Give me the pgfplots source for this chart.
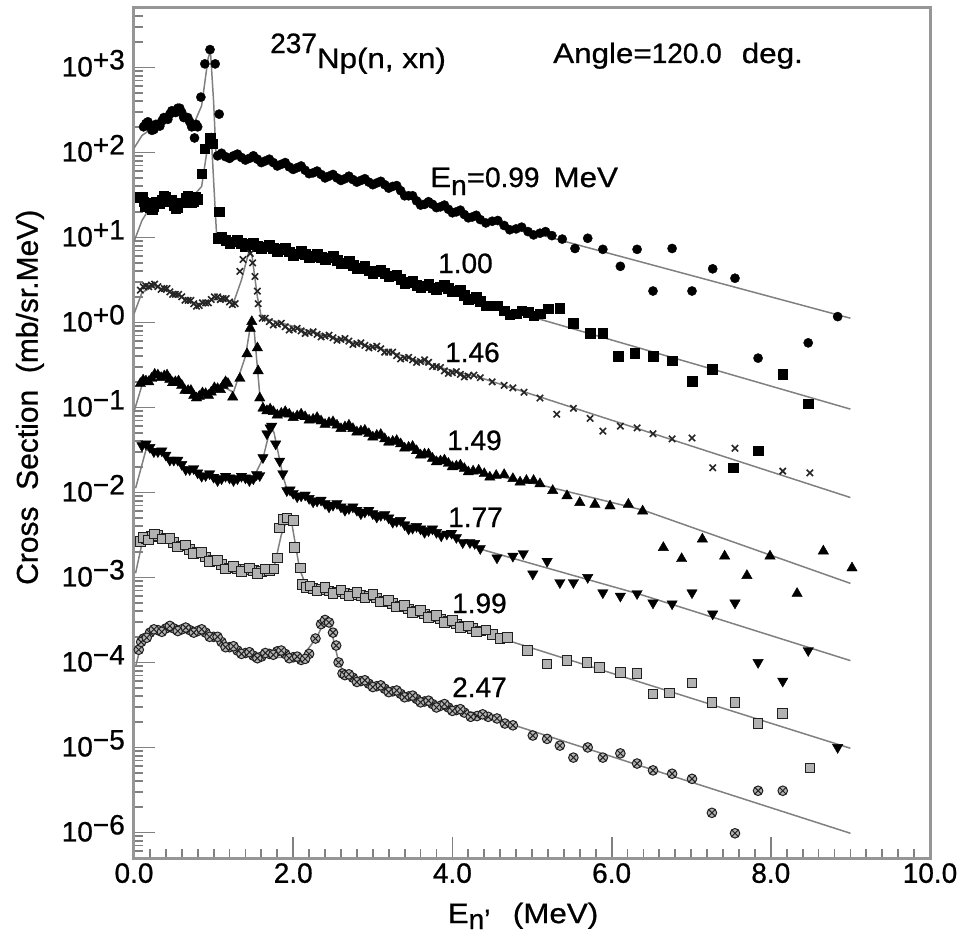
\documentclass[border=0pt]{standalone}
\usepackage{fontspec}
\setmainfont{Liberation Sans}[FakeBold=0.8]
\newfontfamily\widefont{Liberation Sans}[FakeStretch=1.12,FakeBold=0.8]
\usepackage{pgfplots}
\pgfplotsset{compat=1.18}
\newcommand{\tl}[1]{10\raisebox{7pt}{#1}}
\definecolor{axgray}{RGB}{150,150,150}
\definecolor{calc}{RGB}{128,128,128}
\begin{document}
\fontsize{28pt}{32pt}\selectfont
\begin{tikzpicture}
\path[use as bounding box] (-134pt,-78pt) rectangle (831pt,858pt);
\begin{axis}[
  scale only axis, width=796pt, height=850pt,
  xmin=0, xmax=10, ymode=log, ymin=5e-7, ymax=5e3,
  axis line style={draw=axgray, line width=3pt},
  tick pos=left, tick align=inside,
  xtick={0,2,4,6,8,10}, xticklabels={0.0,2.0,4.0,6.0,8.0,10.0},
  minor x tick num=9,
  ytick={1e-6,1e-5,1e-4,1e-3,1e-2,1e-1,1,1e1,1e2,1e3},
  yticklabels={\tl{−6},\tl{−5},\tl{−4},\tl{−3},\tl{−2},\tl{−1},\tl{+0},\tl{+1},\tl{+2},\tl{+3}},
  minor ytick={5e-7,6e-7,7e-7,8e-7,9e-7,
    2e-6,3e-6,4e-6,5e-6,6e-6,7e-6,8e-6,9e-6,
    2e-5,3e-5,4e-5,5e-5,6e-5,7e-5,8e-5,9e-5,
    2e-4,3e-4,4e-4,5e-4,6e-4,7e-4,8e-4,9e-4,
    2e-3,3e-3,4e-3,5e-3,6e-3,7e-3,8e-3,9e-3,
    2e-2,3e-2,4e-2,5e-2,6e-2,7e-2,8e-2,9e-2,
    2e-1,3e-1,4e-1,5e-1,6e-1,7e-1,8e-1,9e-1,
    2,3,4,5,6,7,8,9,
    20,30,40,50,60,70,80,90,
    200,300,400,500,600,700,800,900,
    2000,3000,4000},
  major tick length=21pt, minor tick length=9pt,
  tick style={draw=gray, line width=1.8pt},
  xticklabel style={anchor=north, inner sep=0pt, yshift=-5pt},
  yticklabel style={anchor=base east, inner sep=0pt, xshift=-9pt, yshift=-9pt},
  xlabel={{\widefont E}\raisebox{-6pt}{n'}\hspace{0.8em}{\widefont (MeV)}},
  xlabel style={at={(rel axis cs:0.4887,-0.0765)}, anchor=base, inner sep=0pt},
  ylabel={Cross\ \ Section\ \ (mb/sr.MeV)},
  ylabel style={at={(rel axis cs:-0.1307,0.542)}, anchor=center, inner sep=0pt, font=\fontsize{30pt}{34pt}\selectfont},
]
% ---------- Series 1: En = 0.99 MeV (filled circles)
\addplot[only marks, mark=*, mark size=4.6pt, black] coordinates {
(0.12,2.00e2)(0.15,2.19e2)(0.20,2.04e2)(0.25,1.86e2)(0.30,2.09e2)(0.35,2.34e2)(0.40,2.51e2)
(0.45,2.82e2)(0.50,3.02e2)(0.55,3.31e2)(0.60,2.95e2)(0.65,2.57e2)(0.70,2.29e2)(0.75,2.04e2)
(0.76,1.48e2)(0.80,2.00e2)(0.84,4.47e2)(0.89,1.10e3)(0.955,1.62e3)(1.02,1.10e3)(1.07,2.82e2)
(0.175,2.29e2)(0.225,1.82e2)(0.275,2.14e2)(0.325,2.04e2)(0.375,2.57e2)(0.425,2.45e2)
(0.475,3.09e2)(0.525,2.95e2)(0.575,3.31e2)(0.625,2.57e2)(0.675,2.57e2)(0.725,2.00e2)(0.78,2.14e2)
(1.05,9.12e1)(1.15,8.91e1)(1.25,9.12e1)(1.35,8.71e1)(1.45,8.51e1)(1.55,8.32e1)(1.65,7.94e1)
(1.75,7.59e1)(1.85,7.24e1)(1.95,6.76e1)(2.05,6.61e1)(2.15,6.17e1)(2.25,5.75e1)(2.35,5.50e1)
(2.45,5.25e1)(2.55,5.01e1)(2.65,4.90e1)(2.75,4.79e1)(2.85,4.68e1)(2.95,4.47e1)(3.05,4.37e1)
(3.15,4.17e1)(3.25,3.98e1)(3.35,3.55e1)(3.45,3.09e1)(3.55,2.69e1)(3.65,2.45e1)(3.75,2.45e1)
(3.85,2.29e1)(3.95,2.14e1)(4.05,2.00e1)(4.15,1.86e1)(4.25,1.74e1)(4.35,1.62e1)(4.50,1.55e1)
(4.65,1.38e1)(4.80,1.26e1)(4.95,1.17e1)(5.10,1.12e1)(5.25,1.05e1)(5.38,9.55)(5.54,7.41)
(1.10,9.77e1)(1.20,8.51e1)(1.30,9.55e1)(1.40,8.13e1)(1.50,9.12e1)(1.60,7.59e1)(1.70,8.32e1)
(1.80,6.92e1)(1.90,7.59e1)(2.00,6.31e1)(2.10,6.92e1)(2.20,5.62e1)(2.30,6.03e1)(2.40,5.01e1)
(2.50,5.50e1)(2.60,4.68e1)(2.70,5.25e1)(2.80,4.47e1)(2.90,4.90e1)(3.00,4.17e1)(3.10,4.57e1)
(3.20,3.80e1)(3.30,4.07e1)(3.40,3.09e1)(3.50,3.09e1)(3.60,2.40e1)(3.70,2.63e1)(3.80,2.24e1)
(3.90,2.40e1)(4.00,1.95e1)(4.10,2.09e1)(4.20,1.70e1)(4.30,1.82e1)(4.42,1.48e1)(4.57,1.58e1)
(4.72,1.23e1)(4.87,1.32e1)(5.02,1.07e1)(5.17,1.17e1)
(5.70,9.77)(5.89,7.24)(6.11,4.57)(6.32,7.24)(6.52,2.34)(6.76,7.41)(7.01,2.34)(7.27,4.27)
(7.55,3.31)(7.84,3.80e-1)(8.47,5.75e-1)(8.84,1.17)
};
\addplot[calc, line width=1.5pt, no marks] coordinates {
(0.0,1.12e2)(0.1,1.58e2)(0.3,2.14e2)(0.55,2.95e2)(0.75,2.14e2)(0.85,3.55e2)(0.93,1.26e3)
(0.96,1.58e3)(1.0,3.98e2)(1.03,9.33e1)(2.0,6.76e1)(3.2,4.17e1)(3.7,2.51e1)(4.35,1.66e1)(9.0,1.12)
};
% ---------- Series 2: 1.00 MeV (filled squares)
\addplot[only marks, mark=square*, mark size=4.8pt, black] coordinates {
(0.08,2.95e1)(0.12,2.63e1)(0.16,2.40e1)(0.20,2.24e1)(0.25,2.34e1)(0.30,2.57e1)(0.35,2.75e1)
(0.40,2.95e1)(0.45,2.69e1)(0.50,2.40e1)(0.55,2.24e1)(0.60,2.57e1)(0.65,2.88e1)(0.70,2.82e1)
(0.75,2.63e1)(0.80,2.82e1)(0.85,5.62e1)(0.89,1.10e2)(0.955,1.48e2)(0.99,1.26e2)(1.07,2.00e1)
(0.10,3.02e1)(0.14,2.34e1)(0.18,2.51e1)(0.225,2.14e1)(0.275,2.63e1)(0.325,2.51e1)(0.375,3.09e1)
(0.425,2.63e1)(0.475,2.75e1)(0.525,2.19e1)(0.575,2.57e1)(0.625,2.57e1)(0.675,3.09e1)
(0.725,2.57e1)(0.775,2.95e1)
(1.05,9.77)(1.15,9.33)(1.25,8.91)(1.35,8.51)(1.45,8.32)(1.55,7.94)(1.65,7.76)(1.75,7.41)
(1.85,7.24)(1.95,6.76)(2.05,6.46)(2.15,6.31)(2.25,6.03)(2.35,5.89)(2.45,5.75)(2.55,5.37)
(2.65,5.01)(2.75,4.68)(2.85,4.37)(2.95,4.07)(3.05,3.98)(3.15,3.80)(3.25,3.55)(3.35,3.24)
(3.45,2.95)(3.55,2.75)(3.65,2.69)(3.75,2.57)(3.85,2.63)(3.95,2.51)(4.05,2.34)(4.15,2.09)
(4.25,1.91)(4.35,1.78)(4.50,1.58)(4.65,1.38)(4.80,1.26)(4.95,1.32)(5.10,1.26)(5.20,1.45)
(1.10,1.02e1)(1.20,8.51)(1.30,9.33)(1.40,7.94)(1.50,8.71)(1.60,7.41)(1.70,8.13)(1.80,6.92)
(1.90,7.41)(2.00,6.17)(2.10,6.92)(2.20,5.75)(2.30,6.31)(2.40,5.50)(2.50,6.03)(2.60,4.90)
(2.70,5.25)(2.80,4.27)(2.90,4.57)(3.00,3.80)(3.10,4.17)(3.20,3.47)(3.30,3.63)(3.40,2.88)
(3.50,3.09)(3.60,2.57)(3.70,2.82)(3.80,2.45)(3.90,2.75)(4.00,2.29)(4.10,2.40)(4.20,1.86)
(4.30,2.00)(4.42,1.58)(4.57,1.58)(4.72,1.23)(4.87,1.38)(5.02,1.20)
(5.35,1.48)(5.52,9.77e-1)(5.73,7.41e-1)(5.89,7.41e-1)(6.08,3.98e-1)(6.29,4.37e-1)
(6.52,3.98e-1)(6.76,3.55e-1)(7.01,2.04e-1)(7.26,2.82e-1)(7.53,1.95e-2)(7.84,3.09e-2)
(8.15,2.45e-1)(8.47,1.10e-1)
};
\addplot[calc, line width=1.5pt, no marks] coordinates {
(0.0,8.91)(0.1,1.58e1)(0.2,2.24e1)(0.4,2.82e1)(0.55,2.40e1)(0.7,2.75e1)(0.85,3.98e1)
(0.93,1.26e2)(0.97,1.58e2)(1.01,3.16e1)(1.04,9.77)(2.0,6.61)(3.0,4.07)(3.6,2.75)(4.35,1.74)(9.0,9.55e-2)
};
% ---------- Series 3: 1.46 MeV (crosses)
\addplot[only marks, mark=x, mark size=4.5pt, gray!30!black, mark options={line width=1.6pt}] coordinates {
(0.08,2.40)(0.15,2.69)(0.22,2.75)(0.30,2.63)(0.38,2.51)(0.45,2.29)(0.52,2.14)(0.60,2.00)
(0.68,1.82)(0.75,1.66)(0.82,1.58)(0.90,1.70)(0.97,1.86)(1.05,2.00)(1.12,1.91)(1.20,1.74)
(1.27,1.66)(1.33,3.98)(1.37,5.50)(1.46,6.46)(1.49,5.01)(1.52,3.47)(1.55,2.34)(1.56,1.66)
(0.115,2.63)(0.185,2.63)(0.26,2.82)(0.34,2.45)(0.415,2.51)(0.485,2.14)(0.56,2.14)(0.64,1.82)
(0.715,1.82)(0.785,1.55)(0.86,1.70)(0.935,1.70)(1.01,2.00)(1.085,1.86)(1.16,1.91)(1.235,1.62)
(1.61,1.12)(1.70,1.02)(1.80,9.55e-1)(1.90,8.91e-1)(2.00,8.32e-1)(2.10,7.94e-1)(2.20,7.59e-1)
(2.30,7.24e-1)(2.40,6.92e-1)(2.50,6.61e-1)(2.60,6.31e-1)(2.70,6.03e-1)(2.80,5.62e-1)
(2.90,5.37e-1)(3.00,5.13e-1)(3.10,4.90e-1)(3.20,4.47e-1)(3.30,4.07e-1)(3.40,3.80e-1)
(3.50,3.63e-1)(3.60,3.47e-1)(3.70,3.39e-1)(3.80,3.02e-1)(3.90,2.69e-1)(4.00,2.57e-1)
(4.10,2.45e-1)(4.20,2.34e-1)(4.35,2.24e-1)(4.50,2.00e-1)(4.65,1.82e-1)(4.76,1.70e-1)
(1.65,1.12)(1.75,9.33e-1)(1.85,9.77e-1)(1.95,8.13e-1)(2.05,8.51e-1)(2.15,7.41e-1)(2.25,7.76e-1)
(2.35,6.76e-1)(2.45,7.08e-1)(2.55,6.17e-1)(2.65,6.46e-1)(2.75,5.50e-1)(2.85,5.75e-1)
(2.95,5.01e-1)(3.05,5.25e-1)(3.15,4.47e-1)(3.25,4.47e-1)(3.35,3.72e-1)(3.45,3.89e-1)
(3.55,3.39e-1)(3.65,3.63e-1)(3.75,3.02e-1)(3.85,2.95e-1)(3.95,2.51e-1)(4.05,2.63e-1)
(4.15,2.29e-1)(4.27,2.40e-1)
(4.90,1.51e-1)(5.10,1.29e-1)(5.31,8.32e-2)(5.52,9.77e-2)(5.73,7.41e-2)(5.89,5.25e-2)
(6.11,6.03e-2)(6.32,5.75e-2)(6.52,4.90e-2)(6.76,4.27e-2)(7.01,4.37e-2)(7.27,1.95e-2)
(7.55,3.31e-2)(8.15,1.78e-2)(8.49,1.70e-2)
};
\addplot[calc, line width=1.5pt, no marks] coordinates {
(0.0,1.26)(0.1,2.24)(0.25,2.69)(0.5,2.19)(0.8,1.62)(1.05,1.91)(1.25,1.70)(1.35,3.16)
(1.44,6.61)(1.48,6.31)(1.55,2.00)(1.6,1.15)(2.5,6.61e-1)(3.1,4.90e-1)(3.8,3.02e-1)
(4.35,2.24e-1)(9.0,8.71e-3)
};
% ---------- Series 4: 1.49 MeV (triangles up)
\addplot[only marks, mark=triangle*, mark size=6pt, black] coordinates {
(0.08,1.91e-1)(0.15,2.04e-1)(0.22,2.19e-1)(0.30,2.40e-1)(0.38,2.34e-1)(0.45,2.14e-1)
(0.52,2.00e-1)(0.60,1.82e-1)(0.68,1.58e-1)(0.75,1.38e-1)(0.82,1.35e-1)(0.90,1.45e-1)
(0.97,1.51e-1)(1.05,1.66e-1)(1.12,1.82e-1)(1.18,1.91e-1)(1.24,1.32e-1)
(0.115,2.09e-1)(0.185,2.00e-1)(0.26,2.45e-1)(0.34,2.24e-1)(0.415,2.40e-1)(0.485,1.95e-1)
(0.56,2.04e-1)(0.64,1.58e-1)(0.715,1.58e-1)(0.785,1.29e-1)(0.86,1.48e-1)(0.935,1.38e-1)
(1.01,1.70e-1)(1.085,1.62e-1)(1.15,2.00e-1)
(1.33,2.19e-1)(1.42,4.27e-1)(1.46,8.51e-1)(1.48,1.02)(1.55,5.01e-1)(1.56,2.69e-1)
(1.58,1.29e-1)(1.62,9.77e-2)
(1.67,9.12e-2)(1.75,8.91e-2)(1.85,8.51e-2)(1.95,8.32e-2)(2.05,7.94e-2)(2.15,7.76e-2)
(2.25,7.24e-2)(2.35,6.92e-2)(2.45,6.61e-2)(2.55,6.17e-2)(2.65,5.89e-2)(2.75,5.62e-2)
(2.85,5.25e-2)(2.95,4.90e-2)(3.05,4.68e-2)(3.15,4.27e-2)(3.25,3.98e-2)(3.35,3.72e-2)
(3.45,3.39e-2)(3.55,3.09e-2)(3.65,2.82e-2)(3.75,2.51e-2)(3.85,2.34e-2)(3.95,2.19e-2)
(4.05,2.04e-2)(4.15,1.91e-2)(4.26,1.78e-2)(4.40,1.66e-2)(4.55,1.58e-2)(4.76,1.45e-2)
(1.71,9.55e-2)(1.80,8.13e-2)(1.90,8.91e-2)(2.00,7.59e-2)(2.10,8.32e-2)(2.20,7.08e-2)
(2.30,7.59e-2)(2.40,6.31e-2)(2.50,6.76e-2)(2.60,5.62e-2)(2.70,6.17e-2)(2.80,5.13e-2)
(2.90,5.37e-2)(3.00,4.47e-2)(3.10,4.79e-2)(3.20,3.89e-2)(3.30,4.07e-2)(3.40,3.31e-2)
(3.50,3.47e-2)(3.60,2.75e-2)(3.70,2.82e-2)(3.80,2.29e-2)(3.90,2.40e-2)(4.00,2.00e-2)
(4.10,2.09e-2)(4.20,1.74e-2)(4.33,1.82e-2)(4.47,1.51e-2)(4.65,1.62e-2)(4.85,1.32e-2)
(5.02,1.38e-2)
(4.93,1.38e-2)(5.10,1.26e-2)(5.26,1.05e-2)(5.44,9.12e-3)(5.60,7.59e-3)(5.79,7.24e-3)
(5.98,6.92e-3)(6.21,7.24e-3)(6.39,6.03e-3)(6.65,2.24e-3)(6.88,1.66e-3)(7.14,2.82e-3)
(7.42,1.78e-3)(7.70,1.05e-3)(7.99,1.78e-3)(8.33,6.46e-4)(8.66,2.04e-3)(9.02,1.29e-3)
};
\addplot[calc, line width=1.5pt, no marks] coordinates {
(0.0,8.91e-2)(0.1,1.82e-1)(0.3,2.34e-1)(0.5,2.04e-1)(0.8,1.38e-1)(1.1,1.78e-1)(1.25,1.51e-1)
(1.4,3.98e-1)(1.47,1.00)(1.51,7.94e-1)(1.58,1.41e-1)(1.65,9.33e-2)(2.1,7.94e-2)(2.7,5.75e-2)
(3.4,3.55e-2)(4.3,1.74e-2)(5.1,1.23e-2)(6.4,6.17e-3)(9.0,8.51e-4)
};
% ---------- Series 5: 1.77 MeV (triangles down)
\addplot[only marks, mark=triangle*, mark size=6pt, black, mark options={rotate=180}] coordinates {
(0.10,3.55e-2)(0.20,3.39e-2)(0.30,3.02e-2)(0.40,2.75e-2)(0.50,2.40e-2)(0.60,2.14e-2)
(0.70,1.86e-2)(0.80,1.70e-2)(0.90,1.58e-2)(1.00,1.51e-2)(1.10,1.45e-2)(1.20,1.48e-2)
(1.30,1.45e-2)(1.40,1.48e-2)(1.50,1.45e-2)(1.58,1.58e-2)
(0.15,3.72e-2)(0.25,3.02e-2)(0.35,3.09e-2)(0.45,2.40e-2)(0.55,2.40e-2)(0.65,1.86e-2)
(0.75,1.91e-2)(0.85,1.55e-2)(0.95,1.66e-2)(1.05,1.38e-2)(1.15,1.55e-2)(1.25,1.38e-2)
(1.35,1.55e-2)(1.45,1.38e-2)(1.54,1.62e-2)
(1.62,2.57e-2)(1.67,4.90e-2)(1.71,5.75e-2)(1.73,6.03e-2)(1.78,3.72e-2)(1.83,2.34e-2)(1.87,1.66e-2)
(1.92,1.05e-2)(2.00,9.77e-3)(2.10,9.12e-3)(2.20,8.51e-3)(2.30,7.94e-3)(2.40,7.41e-3)
(2.50,7.08e-3)(2.60,6.76e-3)(2.70,6.46e-3)(2.80,6.17e-3)(2.90,5.89e-3)(3.00,5.62e-3)
(3.10,5.37e-3)(3.20,5.01e-3)(3.30,4.57e-3)(3.40,4.17e-3)(3.50,3.80e-3)(3.60,3.72e-3)
(3.70,3.55e-3)(3.80,3.39e-3)(3.93,3.24e-3)(4.05,2.95e-3)(4.22,2.57e-3)(4.35,2.19e-3)
(1.96,1.07e-2)(2.05,8.91e-3)(2.15,9.33e-3)(2.25,7.76e-3)(2.35,8.13e-3)(2.45,6.76e-3)
(2.55,7.41e-3)(2.65,6.17e-3)(2.75,6.76e-3)(2.85,5.62e-3)(2.95,6.17e-3)(3.05,5.13e-3)
(3.15,5.50e-3)(3.25,4.47e-3)(3.35,4.68e-3)(3.45,3.72e-3)(3.55,3.98e-3)(3.65,3.39e-3)
(3.75,3.72e-3)(3.86,3.09e-3)(3.99,3.31e-3)(4.13,2.57e-3)(4.28,2.51e-3)
(4.56,1.70e-3)(4.76,1.78e-3)(4.89,1.91e-3)(5.01,1.10e-3)(5.19,1.55e-3)(5.35,8.71e-4)
(5.52,8.71e-4)(5.70,1.00e-3)(5.89,6.61e-4)(6.11,6.03e-4)(6.32,6.46e-4)(6.52,5.01e-4)
(6.76,4.90e-4)(7.01,6.61e-4)(7.27,3.72e-4)(7.55,5.01e-4)(7.84,1.00e-4)(8.15,6.03e-5)
(8.47,1.38e-4)(8.84,1.00e-5)
};
\addplot[calc, line width=1.5pt, no marks] coordinates {
(0.02,1.12e-2)(0.15,3.16e-2)(0.3,3.02e-2)(0.7,1.86e-2)(1.0,1.51e-2)(1.5,1.48e-2)(1.62,2.51e-2)
(1.72,6.03e-2)(1.76,5.01e-2)(1.87,1.58e-2)(1.93,1.02e-2)(3.2,5.01e-3)(3.9,3.24e-3)
(4.4,2.09e-3)(6.36,6.31e-4)(9.0,1.05e-4)
};
% ---------- Series 6: 1.99 MeV (grey squares)
\addplot[only marks, mark=square*, mark size=4.8pt, mark options={fill=gray!60, draw=gray!25!black, line width=1pt}] coordinates {
(0.08,2.63e-3)(0.15,2.88e-3)(0.22,3.02e-3)(0.30,3.09e-3)(0.40,2.88e-3)(0.50,2.57e-3)
(0.60,2.34e-3)(0.70,2.14e-3)(0.80,1.95e-3)(0.90,1.74e-3)(1.00,1.58e-3)(1.10,1.41e-3)
(1.20,1.29e-3)(1.30,1.26e-3)(1.40,1.23e-3)(1.50,1.20e-3)(1.60,1.17e-3)(1.70,1.20e-3)
(0.115,2.95e-3)(0.185,2.75e-3)(0.26,3.24e-3)(0.35,2.82e-3)(0.45,2.88e-3)(0.55,2.29e-3)
(0.65,2.40e-3)(0.75,1.91e-3)(0.85,1.95e-3)(0.95,1.55e-3)(1.05,1.58e-3)(1.15,1.26e-3)
(1.25,1.35e-3)(1.35,1.17e-3)(1.45,1.29e-3)(1.55,1.12e-3)(1.65,1.26e-3)
(1.76,1.26e-3)(1.80,1.70e-3)(1.83,3.80e-3)(1.88,4.79e-3)(1.92,5.01e-3)(2.00,4.68e-3)
(2.02,2.24e-3)(2.09,1.29e-3)(2.12,8.32e-4)
(2.17,7.59e-4)(2.25,7.41e-4)(2.35,7.24e-4)(2.45,6.92e-4)(2.55,6.76e-4)(2.65,6.46e-4)
(2.75,6.31e-4)(2.85,6.17e-4)(2.95,6.03e-4)(3.05,5.75e-4)(3.15,5.25e-4)(3.25,4.90e-4)
(3.35,4.57e-4)(3.45,4.27e-4)(3.55,3.98e-4)(3.65,3.72e-4)(3.75,3.47e-4)(3.85,3.24e-4)
(3.95,3.02e-4)(4.05,2.82e-4)(4.15,2.63e-4)(4.25,2.51e-4)(4.35,2.34e-4)(4.50,2.14e-4)
(2.21,7.94e-4)(2.30,6.92e-4)(2.40,7.59e-4)(2.50,6.46e-4)(2.60,7.08e-4)(2.70,6.03e-4)
(2.80,6.61e-4)(2.90,5.75e-4)(3.00,6.31e-4)(3.10,5.13e-4)(3.20,5.37e-4)(3.30,4.47e-4)
(3.40,4.68e-4)(3.50,3.89e-4)(3.60,4.07e-4)(3.70,3.39e-4)(3.80,3.55e-4)(3.90,2.95e-4)
(4.00,3.09e-4)(4.10,2.57e-4)(4.20,2.69e-4)(4.30,2.29e-4)(4.42,2.40e-4)(4.60,1.91e-4)
(4.69,1.95e-4)(4.94,1.38e-4)(5.19,9.55e-5)(5.44,1.05e-4)(5.69,1.00e-4)(5.85,8.71e-5)
(6.11,7.59e-5)(6.32,7.41e-5)(6.52,4.27e-5)(6.73,4.37e-5)(7.01,5.75e-5)(7.26,3.39e-5)
(7.55,3.39e-5)(7.84,1.91e-5)(8.15,2.51e-5)(8.49,5.75e-6)
};
\addplot[calc, line width=1.5pt, no marks] coordinates {
(0.02,1.12e-3)(0.1,2.51e-3)(0.3,3.02e-3)(0.8,1.95e-3)(1.3,1.26e-3)(1.75,1.20e-3)(1.85,3.16e-3)
(1.93,5.01e-3)(1.98,4.47e-3)(2.08,1.26e-3)(2.17,7.59e-4)(3.0,5.89e-4)(4.35,2.29e-4)(9.0,9.77e-6)
};
% ---------- Series 7: 2.47 MeV (grey circles with cross)
\addplot[only marks, mark=otimes*, mark size=4.8pt, mark options={fill=gray!60, draw=gray!25!black, line width=1pt}] coordinates {
(0.06,1.41e-4)(0.12,1.91e-4)(0.20,2.24e-4)(0.30,2.40e-4)(0.40,2.51e-4)(0.50,2.51e-4)
(0.60,2.45e-4)(0.70,2.40e-4)(0.80,2.34e-4)(0.90,2.24e-4)(1.00,2.00e-4)(1.10,1.74e-4)
(1.20,1.51e-4)(1.30,1.38e-4)(1.40,1.29e-4)(1.50,1.20e-4)(1.60,1.17e-4)(1.70,1.26e-4)
(1.80,1.35e-4)(1.90,1.26e-4)(2.00,1.15e-4)(2.10,1.07e-4)(2.20,1.26e-4)
(0.09,1.74e-4)(0.16,1.95e-4)(0.25,2.45e-4)(0.35,2.29e-4)(0.45,2.69e-4)(0.55,2.34e-4)
(0.65,2.57e-4)(0.75,2.24e-4)(0.85,2.45e-4)(0.95,2.00e-4)(1.05,2.00e-4)(1.15,1.51e-4)
(1.25,1.55e-4)(1.35,1.26e-4)(1.45,1.32e-4)(1.55,1.12e-4)(1.65,1.29e-4)(1.75,1.23e-4)
(1.85,1.38e-4)(1.95,1.12e-4)(2.05,1.17e-4)(2.15,1.10e-4)
(2.28,1.91e-4)(2.35,2.82e-4)(2.40,3.16e-4)(2.45,2.95e-4)(2.50,2.24e-4)(2.54,1.58e-4)
(2.57,1.00e-4)(2.62,7.41e-5)
(2.65,7.08e-5)(2.75,6.61e-5)(2.85,6.03e-5)(2.95,5.62e-5)(3.05,5.25e-5)(3.15,4.90e-5)
(3.25,4.57e-5)(3.35,4.27e-5)(3.45,3.98e-5)(3.55,3.72e-5)(3.65,3.47e-5)(3.75,3.24e-5)
(3.85,3.09e-5)(3.95,2.95e-5)(4.05,2.75e-5)(4.15,2.57e-5)(4.31,2.34e-5)(4.45,2.29e-5)
(2.70,7.24e-5)(2.80,5.89e-5)(2.90,6.17e-5)(3.00,5.13e-5)(3.10,5.37e-5)(3.20,4.47e-5)
(3.30,4.68e-5)(3.40,3.89e-5)(3.50,4.07e-5)(3.60,3.39e-5)(3.70,3.55e-5)(3.80,2.95e-5)
(3.90,3.24e-5)(4.00,2.69e-5)(4.10,2.82e-5)(4.23,2.29e-5)(4.38,2.45e-5)(4.66,1.91e-5)
(4.56,2.19e-5)(4.76,1.82e-5)(5.01,1.38e-5)(5.19,1.26e-5)(5.35,1.05e-5)(5.52,7.59e-6)
(5.70,1.00e-5)(5.89,7.59e-6)(6.11,8.51e-6)(6.32,6.46e-6)(6.52,5.37e-6)(6.76,4.90e-6)
(7.01,4.27e-6)(7.26,1.70e-6)(7.55,9.77e-7)(7.84,3.09e-6)(8.15,3.09e-6)
};
\addplot[calc, line width=1.5pt, no marks] coordinates {
(0.02,8.91e-5)(0.1,1.78e-4)(0.3,2.40e-4)(0.8,2.34e-4)(1.3,1.38e-4)(1.6,1.17e-4)(2.1,1.12e-4)
(2.3,2.00e-4)(2.4,3.16e-4)(2.46,2.82e-4)(2.56,1.12e-4)(2.63,7.41e-5)(3.3,4.37e-5)
(4.35,2.45e-5)(9.0,9.77e-7)
};
% ---------- texts
\node[anchor=base west, inner sep=0pt] at (rel axis cs:0.1709,0.9294) {\raisebox{15pt}{237}{\widefont Np(n, xn)}};
\node[anchor=base west, inner sep=0pt] at (rel axis cs:0.5264,0.9353) {{\widefont Angle=}120.0\hspace{20pt}{\widefont deg.}};
\node[anchor=base west, inner sep=0pt] at (rel axis cs:0.3719,0.7894) {{\widefont E}\raisebox{-8pt}{n}{\widefont =}0.99\hspace{14pt}{\widefont MeV}};
\node[anchor=base west, inner sep=0pt] at (rel axis cs:0.3819,0.6882) {1.00};
\node[anchor=base west, inner sep=0pt] at (rel axis cs:0.3907,0.5835) {1.46};
\node[anchor=base west, inner sep=0pt] at (rel axis cs:0.3932,0.4800) {1.49};
\node[anchor=base west, inner sep=0pt] at (rel axis cs:0.3945,0.3894) {1.77};
\node[anchor=base west, inner sep=0pt] at (rel axis cs:0.3995,0.2882) {1.99};
\node[anchor=base west, inner sep=0pt] at (rel axis cs:0.3995,0.1894) {2.47};
\end{axis}
\end{tikzpicture}
\end{document}
